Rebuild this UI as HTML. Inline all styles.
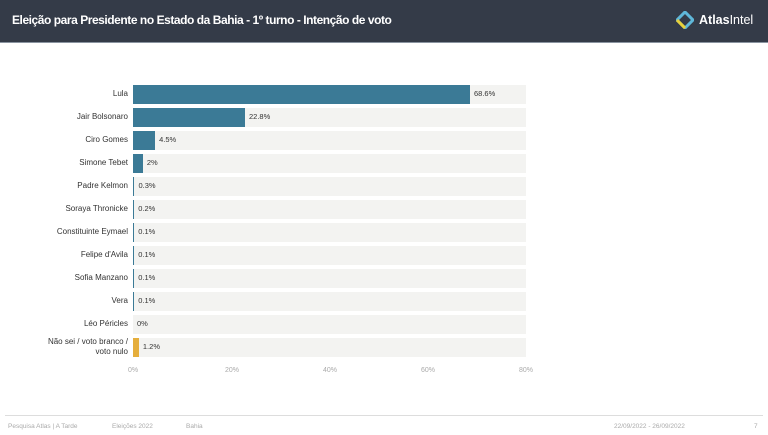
<!DOCTYPE html><html><head><style>
body{margin:0;width:768px;height:435px;background:#fff;font-family:"Liberation Sans",sans-serif;position:relative;overflow:hidden}
.hd{position:absolute;left:0;top:0;width:768px;height:42px;background:#343b48;border-bottom:1px solid #8a94a0}
.t{position:absolute;left:12px;top:13px;color:#fff;font-size:12px;font-weight:bold;letter-spacing:-0.45px}
.lg{position:absolute;left:676px;top:11px}
.lt{position:absolute;left:699px;top:13px;color:#fff;font-size:12.5px}
.lb{position:absolute;right:640px;font-size:8px;color:#333;text-align:right;line-height:10px;width:130px}
.bg{position:absolute;left:133px;width:393px;height:19px;background:#f3f3f1}
.b{position:absolute;left:133px;height:19px;background:#3b7a96}
.v{position:absolute;font-size:7.5px;color:#333}
.ax{position:absolute;top:367px;font-size:7px;color:#aaa;width:30px;text-align:center}
.ft{position:absolute;top:423px;font-size:6.5px;color:#aaa}
</style></head><body>
<div class="hd"><div class="t">Eleição para Presidente no Estado da Bahia - 1º turno - Intenção de voto</div>
<svg class="lg" width="18" height="18" viewBox="0 0 18 18"><path d="M9 1L17 9L9 17L1 9Z" fill="none" stroke="#5fb7d9" stroke-width="3"/><path d="M1 9L9 17" stroke="#e8d13a" stroke-width="3"/></svg>
<div class="lt"><b>Atlas</b>Intel</div></div>
<div id="c"></div>
<div class="ax" style="left:118px">0%</div><div class="ax" style="left:217px">20%</div><div class="ax" style="left:315px">40%</div><div class="ax" style="left:413px">60%</div><div class="ax" style="left:511px">80%</div>
<div style="position:absolute;left:5px;top:415px;width:758px;height:1px;background:#ddd"></div>
<div class="ft" style="left:8px">Pesquisa Atlas | A Tarde</div><div class="ft" style="left:112px">Eleições 2022</div><div class="ft" style="left:186px">Bahia</div><div class="ft" style="left:614px">22/09/2022 - 26/09/2022</div><div class="ft" style="left:754px">7</div>
<script>
var d=[["Lula",68.6,"68.6%"],["Jair Bolsonaro",22.8,"22.8%"],["Ciro Gomes",4.5,"4.5%"],["Simone Tebet",2,"2%"],["Padre Kelmon",.3,"0.3%"],["Soraya Thronicke",.2,"0.2%"],["Constituinte Eymael",.1,"0.1%"],["Felipe d'Avila",.1,"0.1%"],["Sofia Manzano",.1,"0.1%"],["Vera",.1,"0.1%"],["Léo Péricles",0,"0%"],["Não sei / voto branco /<br>voto nulo",1.2,"1.2%"]];
var h="";d.forEach(function(r,i){var c=94+i*23,w=r[1]*393/80;if(r[1]>0&&w<1.2)w=1.2;
h+='<div class="bg" style="top:'+(c-9.5)+'px"></div>';
h+='<div class="b" style="top:'+(c-9.5)+'px;width:'+w+'px;'+(i==11?'background:#e5ae3c':'')+'"></div>';
h+='<div class="v" style="top:'+(c-5)+'px;left:'+(133+w+4)+'px">'+r[2]+'</div>';
var two=r[0].indexOf("<br>")>=0;
h+='<div class="lb" style="top:'+(c-(two?10:5))+'px">'+r[0]+'</div>';});
document.getElementById("c").innerHTML=h;
</script></body></html>
